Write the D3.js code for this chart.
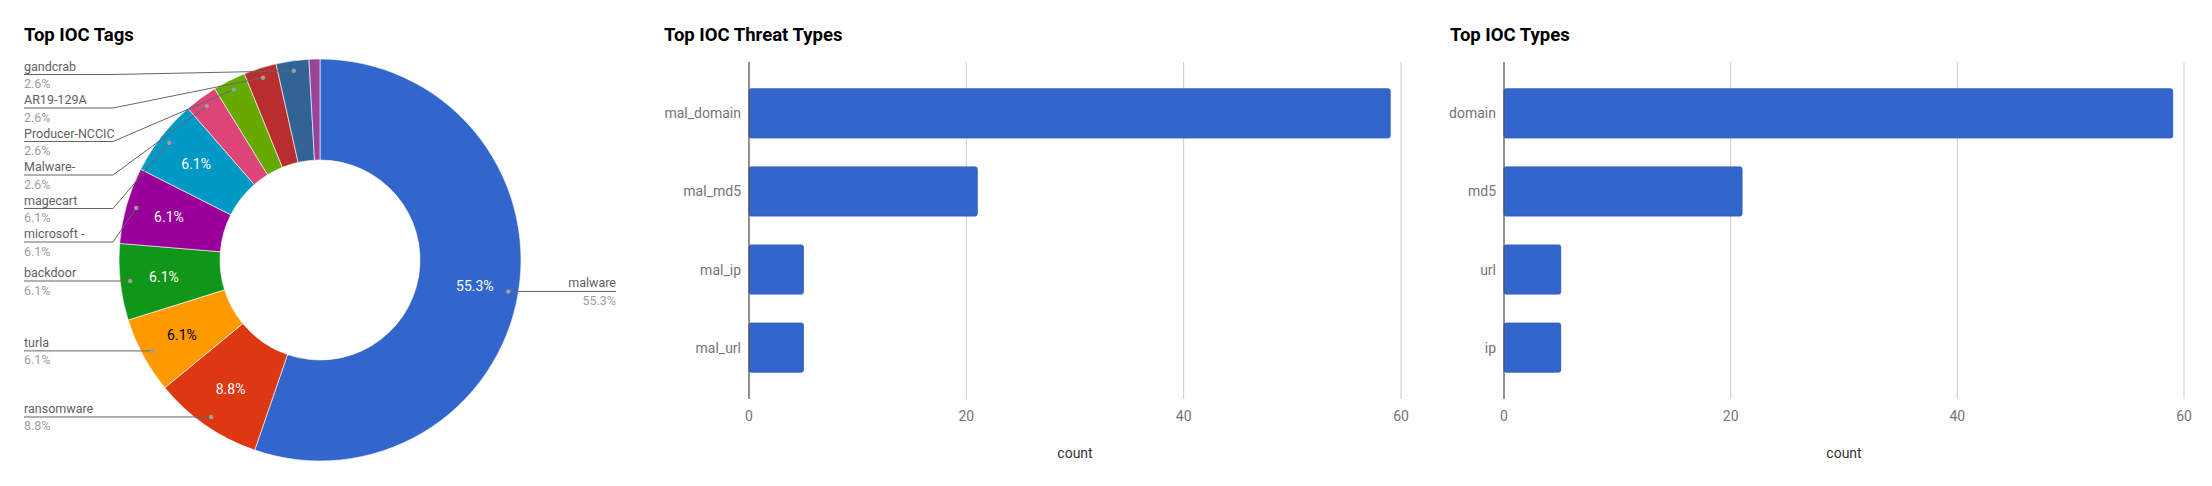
<!DOCTYPE html>
<html>
<head>
<meta charset="utf-8">
<script src="https://cdn.jsdelivr.net/npm/d3@7"></script>
<style>
  body { margin: 0; background: #fff; }
  svg text { font-family: Roboto, "Noto Sans", sans-serif; }
  .title { font-weight: bold; font-size: 18.5px; fill: #000; }
</style>
</head>
<body>
<div id="charts"></div>
<script>
// Chart data
//================================
var tagNames = ["malware", "ransomware", "turla", "backdoor", "microsoft -", "magecart",
  "Malware-", "Producer-NCCIC", "AR19-129A", "gandcrab", "Other"];
var tagCounts = [63, 10, 7, 7, 7, 7, 3, 3, 3, 3, 1];
var tagColors = ["#3366cc", "#dc3912", "#ff9900", "#109618", "#990099", "#0099c6",
  "#dd4477", "#66aa00", "#b82e2e", "#316395", "#994499"];

var threatTypes = ["mal_domain", "mal_md5", "mal_ip", "mal_url"];
var threatCounts = [59, 21, 5, 5];

var iocTypes = ["domain", "md5", "url", "ip"];
var iocCounts = [59, 21, 5, 5];

var countTicks = [0, 20, 40, 60];

var svgWidth = 2212;
var svgHeight = 486;

var svg = d3.select("#charts")
  .append("svg")
  .attr("width", svgWidth)
  .attr("height", svgHeight);

// Donut chart: Top IOC Tags
//================================
svg.append("text")
  .attr("class", "title")
  .attr("x", 24)
  .attr("y", 41)
  .text("Top IOC Tags");

var cx = 320, cy = 260;
var outerR = 201, innerR = 100;
var total = d3.sum(tagCounts);
var pct = d3.format(".1%");

var tagData = tagNames.map((n, i) => ({ name: n, value: tagCounts[i], color: tagColors[i] }));

var pie = d3.pie().sort(null).value(d => d.value);
var arcs = pie(tagData);

var arc = d3.arc().innerRadius(innerR).outerRadius(outerR);

var pieGroup = svg.append("g")
  .attr("transform", `translate(${cx}, ${cy})`);

pieGroup.selectAll("path")
  .data(arcs)
  .enter()
  .append("path")
  .attr("d", arc)
  .attr("fill", d => d.data.color)
  .attr("stroke", "#ffffff")
  .attr("stroke-width", 0.6);

// percentage text inside the bigger slices
function polar(a, r) {
  return [Math.sin(a) * r, -Math.cos(a) * r];
}

pieGroup.selectAll(".sliceText")
  .data(arcs.filter(d => d.data.value / total > 0.05))
  .enter()
  .append("text")
  .attr("class", "sliceText")
  .attr("x", d => polar((d.startAngle + d.endAngle) / 2, 157)[0])
  .attr("y", d => polar((d.startAngle + d.endAngle) / 2, 157)[1])
  .attr("dy", "0.36em")
  .attr("text-anchor", "middle")
  .style("font-size", "14px")
  .attr("fill", d => d.data.color === "#ff9900" ? "#000" : "#fff")
  .text(d => pct(d.data.value / total));

// leader labels
var labelled = arcs.filter(d => d.data.name !== "Other").map(function(d) {
  var p = polar((d.startAngle + d.endAngle) / 2, 191);
  return { name: d.data.name, value: d.data.value, x: cx + p[0], y: cy + p[1] };
});

var leftLabels = labelled.filter(d => d.x < cx).sort((a, b) => a.y - b.y);
var rightLabels = labelled.filter(d => d.x >= cx);

// push labels down so they never overlap
var prevY = 74.5 - 33.5;
leftLabels.forEach(function(d) {
  d.ly = Math.max(d.y, prevY + 33.5);
  prevY = d.ly;
});
rightLabels.forEach(d => d.ly = d.y);

var leaderGroup = svg.append("g");

leftLabels.forEach(function(d) {
  leaderGroup.append("path")
    .attr("d", `M24,${d.ly}H113L${d.x},${d.y}`)
    .attr("fill", "none")
    .attr("stroke", "#666")
    .attr("stroke-width", 1);
  leaderGroup.append("text")
    .attr("x", 24)
    .attr("y", d.ly - 4)
    .style("font-size", "12.5px")
    .attr("fill", "#616161")
    .text(d.name);
  leaderGroup.append("text")
    .attr("x", 24)
    .attr("y", d.ly + 13.5)
    .style("font-size", "12.5px")
    .attr("fill", "#9e9e9e")
    .text(pct(d.value / total));
});

rightLabels.forEach(function(d) {
  leaderGroup.append("path")
    .attr("d", `M${d.x},${d.ly}H616`)
    .attr("fill", "none")
    .attr("stroke", "#666")
    .attr("stroke-width", 1);
  leaderGroup.append("text")
    .attr("x", 616)
    .attr("y", d.ly - 4)
    .attr("text-anchor", "end")
    .style("font-size", "12.5px")
    .attr("fill", "#616161")
    .text(d.name);
  leaderGroup.append("text")
    .attr("x", 616)
    .attr("y", d.ly + 13.5)
    .attr("text-anchor", "end")
    .style("font-size", "12.5px")
    .attr("fill", "#9e9e9e")
    .text(pct(d.value / total));
});

leaderGroup.selectAll("circle")
  .data(labelled)
  .enter()
  .append("circle")
  .attr("cx", d => d.x)
  .attr("cy", d => d.y)
  .attr("r", 2.2)
  .attr("fill", "#9e9e9e");

// Horizontal bar charts
//================================
function drawBars(title, titleX, x0, x1, categories, counts) {
  var top = 62, bottom = 399;

  svg.append("text")
    .attr("class", "title")
    .attr("x", titleX)
    .attr("y", 41)
    .text(title);

  var xScale = d3.scaleLinear()
    .domain([0, 60])
    .range([x0, x1]);

  var yScale = d3.scaleBand()
    .domain(categories)
    .range([top, bottom])
    .paddingInner(0.372)
    .paddingOuter(0.344);

  var g = svg.append("g");

  // gridlines
  g.selectAll(".grid")
    .data(countTicks.filter(t => t > 0))
    .enter()
    .append("line")
    .attr("x1", d => xScale(d))
    .attr("x2", d => xScale(d))
    .attr("y1", top)
    .attr("y2", bottom)
    .attr("stroke", "#cccccc")
    .attr("stroke-width", 1);

  g.selectAll("rect")
    .data(counts)
    .enter()
    .append("rect")
    .attr("x", xScale(0))
    .attr("y", (d, i) => yScale(categories[i]))
    .attr("width", d => xScale(d) - xScale(0))
    .attr("height", yScale.bandwidth())
    .attr("rx", 2)
    .attr("fill", "#3366cc")
    .attr("stroke", "#2f5ec4")
    .attr("stroke-width", 1);

  // baseline
  g.append("line")
    .attr("x1", xScale(0))
    .attr("x2", xScale(0))
    .attr("y1", top)
    .attr("y2", bottom)
    .attr("stroke", "#555")
    .attr("stroke-width", 1.3);

  // category labels
  g.selectAll(".cat")
    .data(categories)
    .enter()
    .append("text")
    .attr("class", "cat")
    .attr("x", xScale(0) - 8)
    .attr("y", d => yScale(d) + yScale.bandwidth() / 2)
    .attr("dy", "0.36em")
    .attr("text-anchor", "end")
    .style("font-size", "14px")
    .attr("fill", "#757575")
    .text(d => d);

  // tick labels
  g.selectAll(".tick")
    .data(countTicks)
    .enter()
    .append("text")
    .attr("class", "tick")
    .attr("x", d => xScale(d))
    .attr("y", 421)
    .attr("text-anchor", "middle")
    .style("font-size", "14px")
    .attr("fill", "#757575")
    .text(d => d);

  g.append("text")
    .attr("x", (x0 + x1) / 2)
    .attr("y", 458)
    .attr("text-anchor", "middle")
    .style("font-size", "14px")
    .attr("fill", "#333")
    .text("count");
}

drawBars("Top IOC Threat Types", 664, 749, 1401, threatTypes, threatCounts);
drawBars("Top IOC Types", 1450, 1504, 2184, iocTypes, iocCounts);
</script>
</body>
</html>
